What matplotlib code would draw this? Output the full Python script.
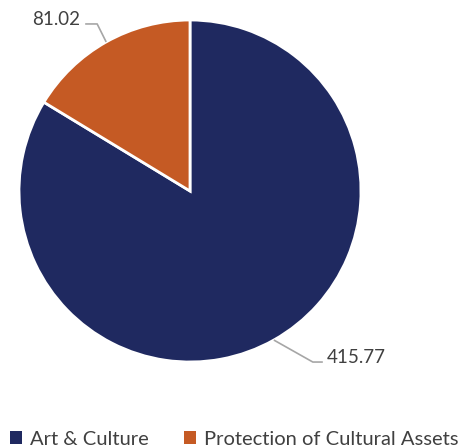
import numpy as np
import matplotlib
matplotlib.use("Agg")
import matplotlib.pyplot as plt
from matplotlib.patches import Patch

categories = ["Art & Culture", "Protection of Cultural Assets"]
values = [415.77, 81.02]
colors = ["#1F2960", "#C55A24"]
value_labels = ["415.77", "81.02"]

W, H = 462, 448
fig = plt.figure(figsize=(W / 100, H / 100), dpi=100)
ax = fig.add_axes([0, 0, 1, 1])

cx, cy, r = 190, H - 191, 171
wedges, _ = ax.pie(values, colors=colors, startangle=90, counterclock=False,
                   center=(cx, cy), radius=r,
                   wedgeprops=dict(edgecolor="white", linewidth=2))
ax.set_xlim(0, W)
ax.set_ylim(0, H)
ax.set_aspect("equal")
ax.axis("off")

font = "Lato"
txt_color = "#404040"
line_color = "#A6A6A6"

# leader lines from each wedge's mid-arc to its value label
# (elbow offset, horizontal run, text alignment)
leader = {
    0: dict(elbow=(39, -22), run=10, ha="left"),
    1: dict(elbow=(-9, 18), run=-12, ha="right"),
}
for i, w in enumerate(wedges):
    mid = np.deg2rad((w.theta1 + w.theta2) / 2)
    x0, y0 = cx + r * np.cos(mid), cy + r * np.sin(mid)
    ex, ey = x0 + leader[i]["elbow"][0], y0 + leader[i]["elbow"][1]
    hx = ex + leader[i]["run"]
    ax.plot([x0, ex, hx], [y0, ey, ey], color=line_color, lw=1.2,
            solid_capstyle="butt")
    tx = hx + (4 if leader[i]["ha"] == "left" else -5)
    ax.text(tx, ey - 1, value_labels[i], ha=leader[i]["ha"], va="baseline",
            fontsize=13.5, color=txt_color, family=font)

handles = [Patch(facecolor=c, edgecolor="none") for c in colors]
leg = ax.legend(handles, categories, loc="lower left", bbox_to_anchor=(0.013, -0.008),
                ncol=2, frameon=False, handlelength=0.6, handleheight=0.6,
                handletextpad=0.4, columnspacing=1.75, borderpad=0.2,
                borderaxespad=0.0, prop=dict(family=font, size=14.5))
for t in leg.get_texts():
    t.set_color(txt_color)

fig.savefig("out.png", dpi=100)
